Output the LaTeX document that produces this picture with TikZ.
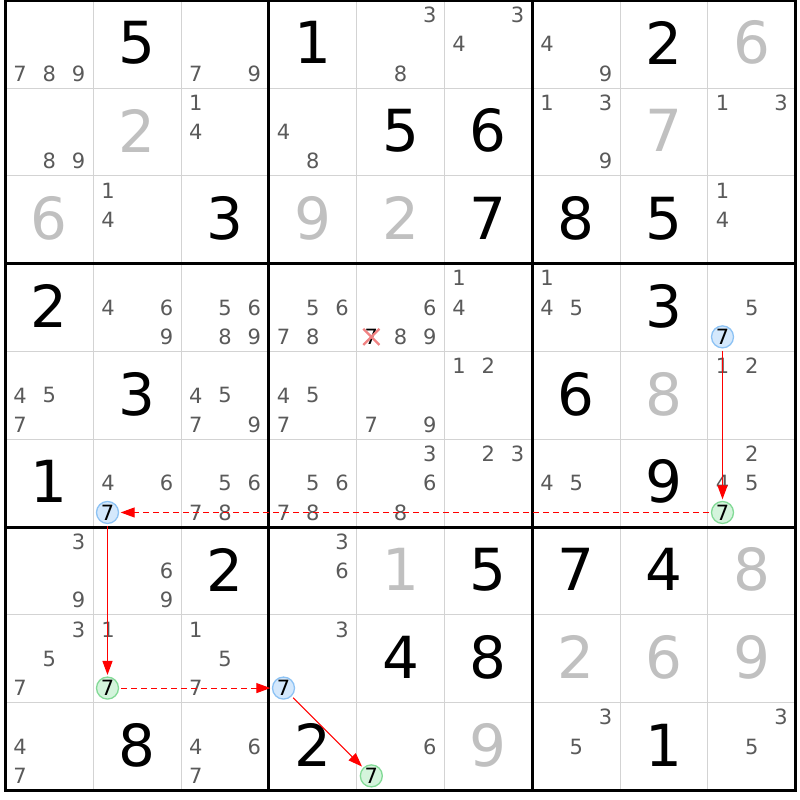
\documentclass[tikz,border=0pt]{standalone}
\usepackage{fontspec}
\setmainfont{DejaVu Sans}
\usetikzlibrary{arrows.meta,shapes.misc}
\definecolor{gridgray}{RGB}{211,211,211}
\definecolor{candgray}{RGB}{90,90,90}
\definecolor{solvedgray}{RGB}{192,192,192}
\definecolor{bfill}{RGB}{212,232,252}
\definecolor{bline}{RGB}{140,194,244}
\definecolor{gfill}{RGB}{212,244,220}
\definecolor{gline}{RGB}{130,218,150}
\definecolor{xred}{RGB}{240,130,130}
\definecolor{linkred}{RGB}{255,0,0}
\begin{document}
\begin{tikzpicture}[x=1pt,y=-1pt,
  given/.style={inner sep=0pt, font=\fontsize{58}{58}\selectfont, text=black},
  solveddigit/.style={given, text=solvedgray},
  canddigit/.style={inner sep=0pt, font=\fontsize{21}{21}\selectfont, text=candgray},
  hlblue/.style={circle, draw=bline, fill=bfill, line width=1.3pt, minimum size=22pt, inner sep=0pt, font=\fontsize{21}{21}\selectfont, text=black},
  hlgreen/.style={hlblue, draw=gline, fill=gfill},
  link/.style={draw=linkred, line width=1.1pt, -{Triangle[length=14pt,width=10pt,fill=linkred]}, shorten <=2pt, shorten >=1.5pt},
  weaklink/.style={link, dash pattern=on 6pt off 4pt},
  thinline/.style={draw=gridgray, line width=1pt},
  boxline/.style={draw=black, line width=3pt}]
\useasboundingbox (0,0) rectangle (800,800);
\fill[white] (0,0) rectangle (800,800);
% thin grid lines
\foreach \i in {1,2,4,5,7,8} {
  \draw[thinline] ({5.5+87.8*\i}, 0.3) -- ({5.5+87.8*\i}, 790.5);
  \draw[thinline] (5.5, {0.3+87.8*\i}) -- (795.7, {0.3+87.8*\i});
}
% box lines
\foreach \i in {0,3,6,9} {
  \draw[boxline] ({5.5+87.8*\i}, -1) -- ({5.5+87.8*\i}, 791.7);
  \draw[boxline] (4, {0.3+87.8*\i}) -- (797, {0.3+87.8*\i});
}
% given digits
\foreach \r/\c/\d in {1/2/5,1/4/1,1/8/2,2/5/5,2/6/6,3/3/3,3/6/7,3/7/8,3/8/5,4/1/2,4/8/3,5/2/3,5/7/6,6/1/1,6/8/9,7/3/2,7/6/5,7/7/7,7/8/4,8/5/4,8/6/8,9/2/8,9/4/2,9/8/1}
  \node[given] (g\r\c) at ({5.5+87.8*(\c-0.5)}, {0.3+87.8*(\r-0.5)-1.5}) {\d};
% solved digits
\foreach \r/\c/\d in {1/9/6,2/2/2,2/8/7,3/1/6,3/4/9,3/5/2,5/8/8,7/5/1,7/9/8,8/7/2,8/8/6,8/9/9,9/6/9}
  \node[solveddigit] (s\r\c) at ({5.5+87.8*(\c-0.5)}, {0.3+87.8*(\r-0.5)-1.5}) {\d};
% candidates
\foreach \r/\c/\d in {1/1/7,1/1/8,1/1/9,1/3/7,1/3/9,1/5/3,1/5/8,1/6/3,1/6/4,1/7/4,1/7/9,
  2/1/8,2/1/9,2/3/1,2/3/4,2/4/4,2/4/8,2/7/1,2/7/3,2/7/9,2/9/1,2/9/3,
  3/2/1,3/2/4,3/9/1,3/9/4,
  4/2/4,4/2/6,4/2/9,4/3/5,4/3/6,4/3/8,4/3/9,4/4/5,4/4/6,4/4/7,4/4/8,4/5/6,4/5/8,4/5/9,4/6/1,4/6/4,4/7/1,4/7/4,4/7/5,4/9/5,
  5/1/4,5/1/5,5/1/7,5/3/4,5/3/5,5/3/7,5/3/9,5/4/4,5/4/5,5/4/7,5/5/7,5/5/9,5/6/1,5/6/2,5/9/1,5/9/2,
  6/2/4,6/2/6,6/3/5,6/3/6,6/3/7,6/3/8,6/4/5,6/4/6,6/4/7,6/4/8,6/5/3,6/5/6,6/5/8,6/6/2,6/6/3,6/7/4,6/7/5,6/9/2,6/9/4,6/9/5,
  7/1/3,7/1/9,7/2/6,7/2/9,7/4/3,7/4/6,
  8/1/3,8/1/5,8/1/7,8/2/1,8/3/1,8/3/5,8/3/7,8/4/3,
  9/1/4,9/1/7,9/3/4,9/3/6,9/3/7,9/5/6,9/7/3,9/7/5,9/9/3,9/9/5} {
  \pgfmathsetmacro\cx{5.5+87.8*(\c-1)+87.8/6*(1+2*mod(\d-1,3))}
  \pgfmathsetmacro\cy{0.3+87.8*(\r-1)+87.8/6*(1+2*floor((\d-1)/3))}
  \node[canddigit] (k\r\c\d) at (\cx,\cy) {\d};
}
% eliminated candidate
\node[canddigit, text=black] (k457) at (371.33,336.87) {7};
\node[cross out, draw=xred, line width=2.2pt, minimum size=14pt, inner sep=0pt] (x457) at (371.33,336.87) {};
% highlighted candidates
\node[hlblue]  (hb1) at (722.5,336.87) {7};
\node[hlgreen] (hg1) at (722.5,512.47) {7};
\node[hlblue]  (hb2) at (107.5,512.47) {7};
\node[hlgreen] (hg2) at (107.5,688.07) {7};
\node[hlblue]  (hb3) at (283.5,688.07) {7};
\node[hlgreen] (hg3) at (371.33,775.87) {7};
% chain
\draw[link] (hb1) -- (hg1);
\draw[weaklink] (hg1) -- (hb2);
\draw[link] (hb2) -- (hg2);
\draw[weaklink] (hg2) -- (hb3);
\draw[link] (hb3) -- (hg3);
\end{tikzpicture}
\end{document}
